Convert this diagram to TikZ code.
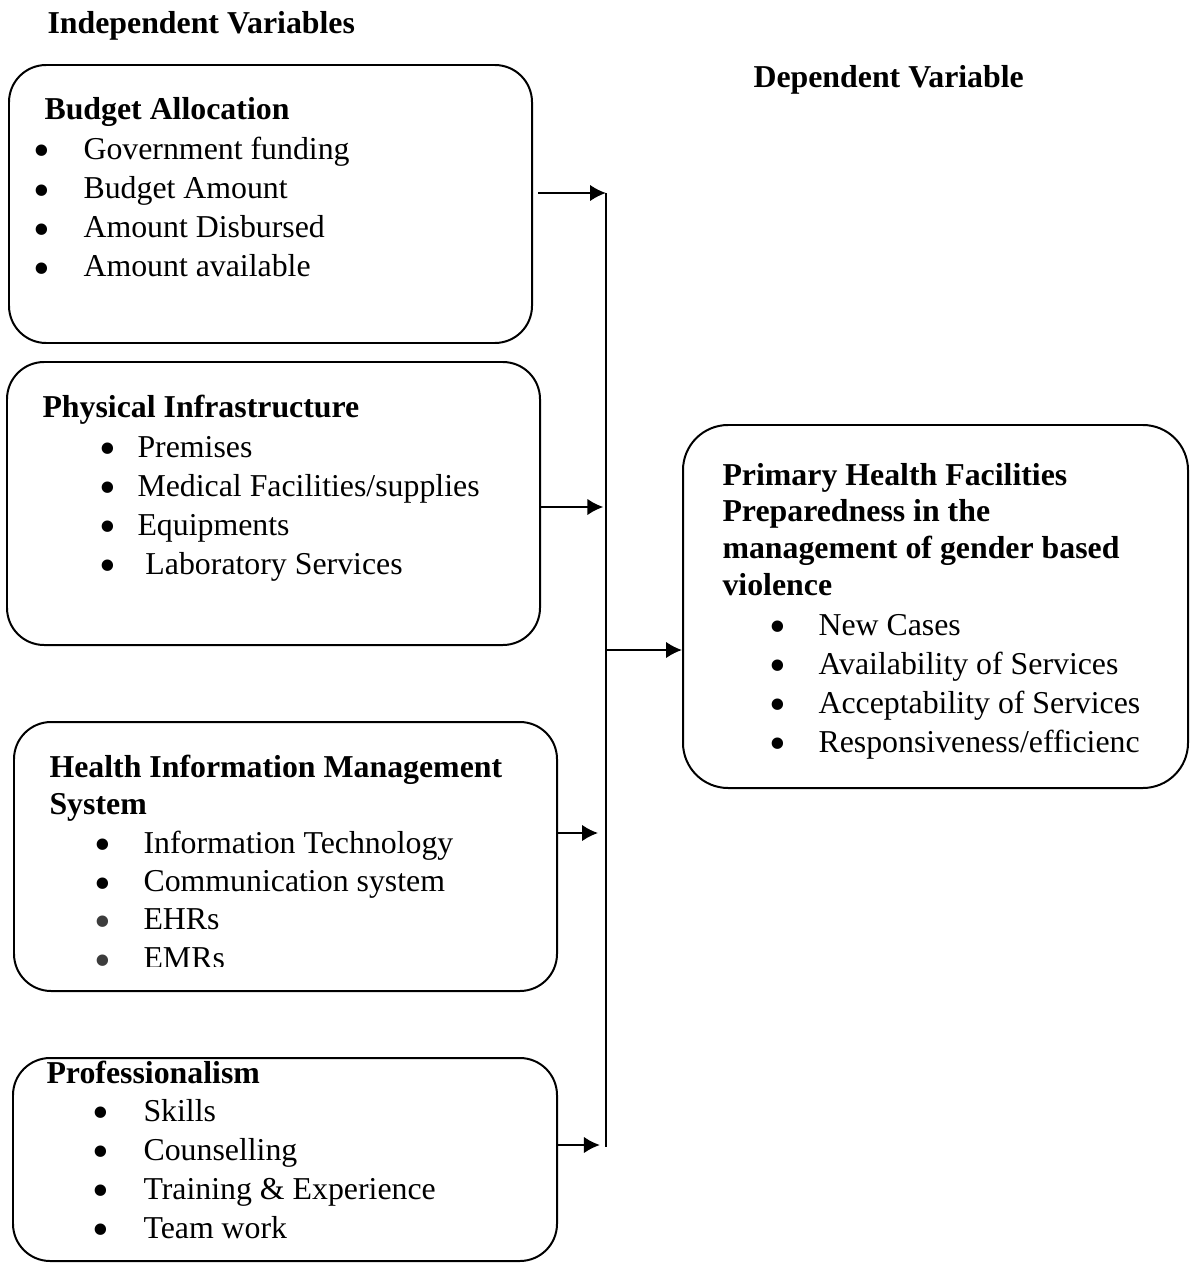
\documentclass[tikz,border=0pt]{standalone}
\usepackage{fontspec}
\setmainfont{Liberation Serif}
\usetikzlibrary{arrows.meta, fit}
\newlength\px \setlength\px{0.377pt}
\newcommand{\bitem}[3][black]{\makebox[0pt]{\smash{\raisebox{-3pt}{\scalebox{1.5}{\color{#1}\textbullet}}}}\hspace{#2\px}#3}
\tikzset{
  varbox/.style={draw, line width=0.75pt, rounded corners=14pt, inner sep=0pt},
  head/.style={anchor=base west, inner sep=0pt, font=\bfseries},
  item/.style={anchor=base west, inner sep=0pt},
  arr/.style={-{Latex[length=6pt,width=6.2pt]}, line width=0.8pt},
}
\definecolor{bulgray}{HTML}{3C3C3C}
\begin{document}
\fontsize{12pt}{14pt}\selectfont
\begin{tikzpicture}[x=\px, y=-\px]
\useasboundingbox (0,0) rectangle (1193,1263);

\node[head] (indep) at (47,34) {Independent Variables};
\node[head] (depv) at (753,88) {Dependent Variable};

% left boxes
\node[varbox, fit={(9,65) (532,343)}] (budget) {};
\node[head] (budhd) at (44,120) {Budget Allocation};
\foreach \t [count=\i] in {Government funding, Budget Amount, Amount Disbursed, Amount available}
  \node[item] (bud\i) at (41,{159+39.3*(\i-1)}) {\bitem{42}{\t}};

\node[varbox, fit={(7,362) (540,645)}] (phys) {};
\node[head] (physhd) at (42,417) {Physical Infrastructure};
\foreach \t [count=\i] in {Premises, Medical Facilities/supplies, Equipments, {\ Laboratory Services}}
  \node[item] (phy\i) at (107,{457+39*(\i-1)}) {\bitem{30}{\t}};

\node[varbox, fit={(14,722) (557,991)}] (hims) {};
\node[head] (himshd) at (49,777) {Health Information Management};
\node[head] (himshdb) at (49,814) {System};
\node[item] (him1) at (102,853) {\bitem{41}{Information Technology}};
\node[item] (him2) at (102,891.4) {\bitem{41}{Communication system}};
\node[item] (him3) at (102,929.8) {\bitem[bulgray]{41}{EHRs}};
\begin{scope}
  \clip (0,700) -- (600,700) -- (600,966) -- (125,966) -- (125,985) -- (0,985) -- cycle;
  \node[item] (him4) at (102,968.2) {\bitem[bulgray]{41}{EMRs}};
\end{scope}

\node[varbox, fit={(13,1058) (557,1261)}] (prof) {};
\node[head] (profhd) at (46,1083) {Professionalism};
\foreach \t [count=\i] in {Skills, Counselling, Training \& Experience, Team work}
  \node[item] (pro\i) at (100,{1121+39*(\i-1)}) {\bitem{43}{\t}};

% right box
\node[varbox, rounded corners=17pt, fit={(683,425) (1188,788)}] (prim) {};
\foreach \t [count=\i] in {Primary Health Facilities, Preparedness in the, management of gender based, violence}
  \node[head] (primhd\i) at (722,{485+36.7*(\i-1)}) {\t};
\foreach \t [count=\i] in {New Cases, Availability of Services, Acceptability of Services, Responsiveness/efficienc}
  \node[item] (pri\i) at (777,{635+39*(\i-1)}) {\bitem{41}{\t}};

% connectors
\coordinate (spinetop) at (606,193);
\coordinate (spinebot) at (606,1147);
\coordinate (join) at (606,650);
\coordinate (in2) at (606,507);
\coordinate (in3) at (606,833);
\coordinate (in4) at (606,1145);
\draw[line width=0.9pt] (spinetop) -- (spinebot);
\draw[arr, shorten <=1.9pt] (budget.east |- spinetop) -- (spinetop);
\draw[arr, shorten >=1pt] (phys.east |- in2) -- (in2);
\draw[arr, shorten >=3pt] (hims.east |- in3) -- (in3);
\draw[arr, shorten >=2.3pt] (prof.east |- in4) -- (in4);
\draw[arr] (join) -- (prim.west |- join);
\end{tikzpicture}
\end{document}
